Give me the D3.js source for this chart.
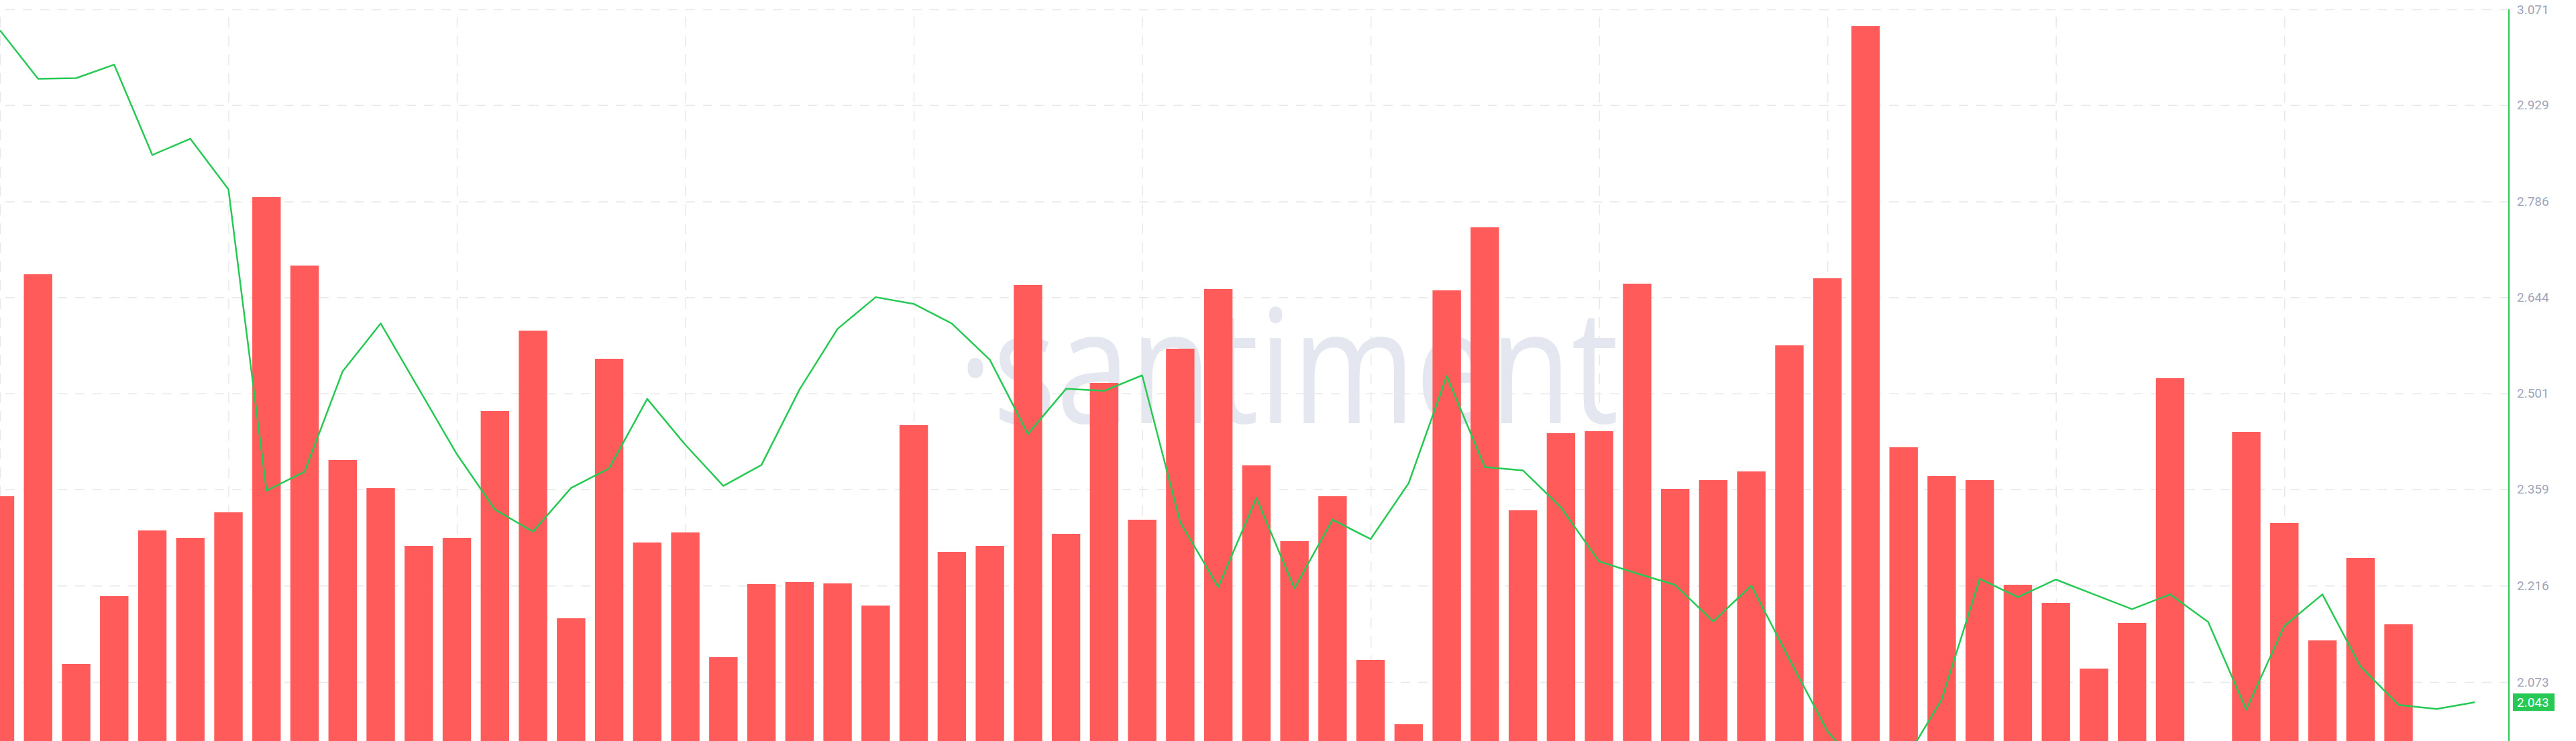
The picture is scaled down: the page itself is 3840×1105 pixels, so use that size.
<!DOCTYPE html>
<html>
<head>
<meta charset="utf-8">
<script src="https://cdn.jsdelivr.net/npm/d3@7"></script>
<style>
  html, body { margin: 0; padding: 0; background: #ffffff; }
  svg { display: block; overflow: hidden; }
</style>
</head>
<body>
<svg id="chart" width="3840" height="1105"></svg>
<script>
// ---- data ----
const categories = d3.range(66); // daily periods (no date labels shown)
const volume = [36.5, 69.6, 11.5, 21.6, 31.4, 30.3, 34.1, 81.1, 70.9, 41.9,
                37.7, 29.1, 30.3, 49.2, 61.2, 18.3, 57.0, 29.6, 31.1, 12.5,
                23.4, 23.7, 23.5, 20.2, 47.1, 28.2, 29.1, 68.0, 30.9, 53.4,
                33.0, 58.5, 67.4, 41.1, 29.8, 36.5, 12.1, 2.5, 67.2, 76.6,
                34.4, 45.9, 46.2, 68.2, 37.6, 38.9, 40.2, 59.0, 69.0, 106.6,
                43.8, 39.5, 38.9, 23.3, 20.6, 10.8, 17.6, 54.1, 0, 46.1,
                32.5, 15.0, 27.3, 17.4, 0, 0];
const price = [3.040, 2.968, 2.969, 2.989, 2.855, 2.879, 2.804, 2.357, 2.385, 2.534,
               2.605, 2.508, 2.411, 2.329, 2.296, 2.361, 2.390, 2.493, 2.425, 2.364,
               2.395, 2.507, 2.597, 2.644, 2.634, 2.605, 2.551, 2.441, 2.508, 2.505,
               2.528, 2.310, 2.214, 2.346, 2.212, 2.314, 2.285, 2.368, 2.527, 2.392,
               2.387, 2.332, 2.252, 2.234, 2.217, 2.163, 2.216, 2.107, 2.000, 1.935,
               1.953, 2.047, 2.226, 2.199, 2.225, 2.203, 2.181, 2.203, 2.162, 2.032,
               2.156, 2.203, 2.096, 2.039, 2.033, 2.043];
const yTickLabels = ["3.071", "2.929", "2.786", "2.644", "2.501", "2.359", "2.216", "2.073"];
const lastValueLabel = "2.043";
const watermarkText = "\u00B7santiment";

// ---- layout ----
const W = 3840, H = 1105;
const axisX = 3740;
const plotTop = 14;
const GREEN = "#26c953";
const RED = "#ff5b5b";

const svg = d3.select("#chart");

const x = d3.scalePoint().domain(categories).range([0, 3689]).padding(0);
const step = x.step();
const barW = step * 0.747;

const y = d3.scaleLinear().domain([2.073, 3.071]).range([1017, plotTop]);
const yVol = d3.scaleLinear().domain([0, 110.5]).range([H, 0]);

// watermark
svg.append("text")
  .attr("x", 1428).attr("y", 631)
  .attr("font-family", "'Open Sans', 'Noto Sans', sans-serif")
  .attr("font-weight", 400)
  .attr("font-size", 237)
  .attr("textLength", 985)
  .attr("lengthAdjust", "spacingAndGlyphs")
  .attr("fill", "#e4e7ef")
  .text(watermarkText);

// horizontal grid
const yTickVals = yTickLabels.map(Number);
const hGrid = svg.append("g").attr("transform", `translate(${axisX},0)`)
  .call(d3.axisLeft(y).tickValues(yTickVals).tickSize(axisX).tickFormat(""));
hGrid.select(".domain").remove();
hGrid.selectAll("line").attr("stroke", "#e7e8ec").attr("stroke-width", 1.5).attr("stroke-dasharray", "14,12");

// vertical grid
const vGrid = svg.append("g").attr("transform", `translate(0,${H})`)
  .call(d3.axisBottom(x).tickValues(categories.filter(c => c % 6 === 0)).tickSize(-(H - plotTop)).tickFormat(""));
vGrid.select(".domain").remove();
vGrid.selectAll("line").attr("stroke", "#e7e8ec").attr("stroke-width", 1.5).attr("stroke-dasharray", "16,12");

// bars
svg.append("g").selectAll("rect")
  .data(categories.filter(c => volume[c] > 0))
  .join("rect")
  .attr("x", c => x(c) - barW / 2)
  .attr("y", c => yVol(volume[c]))
  .attr("width", barW)
  .attr("height", c => H - yVol(volume[c]))
  .attr("fill", RED);

// price line
const line = d3.line().x((d, i) => x(categories[i])).y(d => y(d));
svg.append("path")
  .datum(price)
  .attr("d", line)
  .attr("fill", "none")
  .attr("stroke", GREEN)
  .attr("stroke-width", 2.5)
  .attr("stroke-linejoin", "round");

// right axis
svg.append("line")
  .attr("x1", axisX).attr("x2", axisX)
  .attr("y1", plotTop).attr("y2", H)
  .attr("stroke", GREEN).attr("stroke-width", 2);

const yAxis = svg.append("g").attr("transform", `translate(${axisX},0)`)
  .call(d3.axisRight(y).tickValues(yTickVals).tickSize(0).tickPadding(12)
    .tickFormat((d, i) => yTickLabels[i]));
yAxis.select(".domain").remove();
yAxis.selectAll("text")
  .attr("font-family", "Roboto, 'Liberation Sans', sans-serif")
  .attr("font-size", 19)
  .attr("fill", "#9ea5ba");

// last value label
const lastY = y(price[price.length - 1]);
svg.append("rect")
  .attr("x", axisX + 6).attr("y", lastY - 13)
  .attr("width", 62).attr("height", 26)
  .attr("fill", GREEN);
svg.append("text")
  .attr("x", axisX + 12).attr("y", lastY)
  .attr("dy", "0.35em")
  .attr("font-family", "Roboto, 'Liberation Sans', sans-serif")
  .attr("font-size", 19)
  .attr("fill", "#ffffff")
  .text(lastValueLabel);
</script>
</body>
</html>
